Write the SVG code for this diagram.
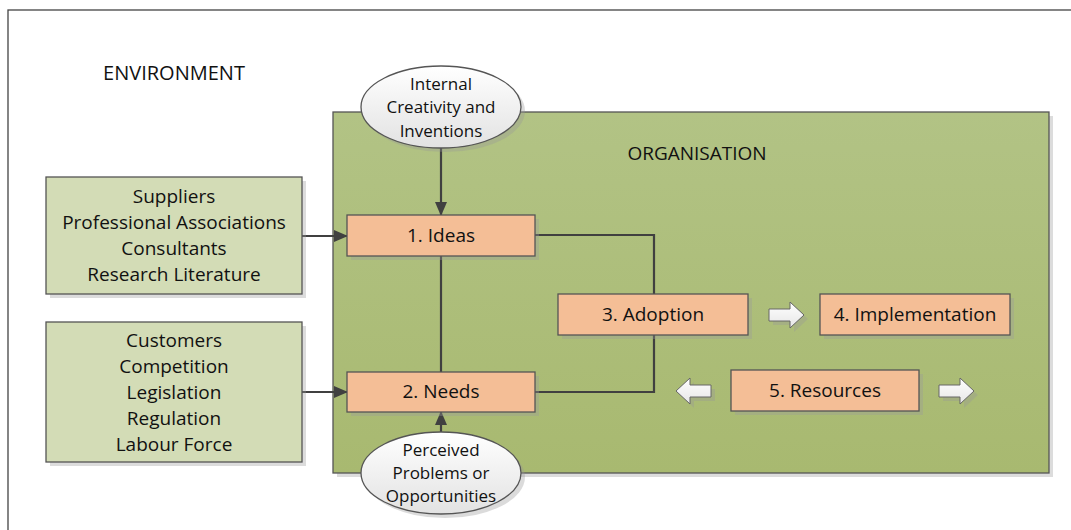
<svg xmlns="http://www.w3.org/2000/svg" width="1071" height="530" viewBox="0 0 1071 530">
<defs>
<style>
text{font-family:"Open Sans","Liberation Sans",sans-serif;fill:#111;text-anchor:middle}
.box{fill:#f4be96;stroke:#555;stroke-width:1.3}
.env{fill:#d3dcb6;stroke:#555;stroke-width:1.3}
.sh{fill:#9a9a9a;opacity:0.35}
.conn{fill:none;stroke:#404040;stroke-width:2.2}
.t19{font-size:19px}
.t16{font-size:17px}
.blk{fill:url(#wg);stroke:#666;stroke-width:1}
</style>
<linearGradient id="og" x1="0" y1="0" x2="0" y2="1">
<stop offset="0" stop-color="#b2c385"/>
<stop offset="1" stop-color="#a8b970"/>
</linearGradient>
<linearGradient id="eg" x1="0" y1="0" x2="0" y2="1">
<stop offset="0" stop-color="#ffffff"/>
<stop offset="1" stop-color="#e2e2e2"/>
</linearGradient>
<linearGradient id="wg" x1="0" y1="0" x2="0" y2="1">
<stop offset="0" stop-color="#ffffff"/>
<stop offset="1" stop-color="#e6e6e6"/>
</linearGradient>
<marker id="ah" markerWidth="14" markerHeight="12" refX="13" refY="6" orient="auto" markerUnits="userSpaceOnUse">
<path d="M0,0 L14,6 L0,12 Z" fill="#404040"/>
</marker>
</defs>
<rect width="1071" height="530" fill="#ffffff"/>
<g id="environment">
<rect x="8" y="10" width="1080" height="540" fill="none" stroke="#444" stroke-width="1.3"/>
<text x="174" y="80" class="t19" style="font-size:20px">ENVIRONMENT</text>
</g>
<g id="organisation">
<rect x="337" y="116" width="716" height="361" fill="#dcdcdc"/>
<rect x="333" y="112" width="716" height="361" fill="url(#og)" stroke="#555" stroke-width="1.3"/>
<text x="697" y="160" class="t19">ORGANISATION</text>
</g>
<g id="connectors">
<line class="conn" x1="441" y1="148" x2="441" y2="215" marker-end="url(#ah)"/>
<line class="conn" x1="441" y1="432" x2="441" y2="412" marker-end="url(#ah)"/>
<line class="conn" x1="302" y1="236" x2="347" y2="236" marker-end="url(#ah)"/>
<line class="conn" x1="302" y1="392" x2="347" y2="392" marker-end="url(#ah)"/>
<line class="conn" x1="441" y1="256" x2="441" y2="372"/>
<polyline class="conn" points="535,235 654,235 654,294"/>
<polyline class="conn" points="654,335 654,392 535,392"/>
</g>
<g id="suppliers">
<rect class="sh" x="50" y="181" width="256" height="117"/>
<rect class="env" x="46" y="177" width="256" height="117"/>
<text class="t19" x="174" y="203">Suppliers</text>
<text class="t19" x="174" y="229">Professional Associations</text>
<text class="t19" x="174" y="255">Consultants</text>
<text class="t19" x="174" y="281">Research Literature</text>
</g>
<g id="customers">
<rect class="sh" x="50" y="326" width="256" height="140"/>
<rect class="env" x="46" y="322" width="256" height="140"/>
<text class="t19" x="174" y="347">Customers</text>
<text class="t19" x="174" y="373">Competition</text>
<text class="t19" x="174" y="399">Legislation</text>
<text class="t19" x="174" y="425">Regulation</text>
<text class="t19" x="174" y="451">Labour Force</text>
</g>
<g id="internal">
<ellipse cx="445" cy="111" rx="80" ry="41" fill="#999" opacity="0.35"/>
<ellipse cx="441" cy="107" rx="80" ry="41" fill="url(#eg)" stroke="#555" stroke-width="1.3"/>
<text class="t16" x="441" y="90">Internal</text>
<text class="t16" x="441" y="113">Creativity and</text>
<text class="t16" x="441" y="137">Inventions</text>
</g>
<g id="perceived">
<ellipse cx="445" cy="477" rx="80" ry="41" fill="#999" opacity="0.35"/>
<ellipse cx="441" cy="473" rx="80" ry="41" fill="url(#eg)" stroke="#555" stroke-width="1.3"/>
<text class="t16" x="441" y="456">Perceived</text>
<text class="t16" x="441" y="479">Problems or</text>
<text class="t16" x="441" y="502">Opportunities</text>
</g>
<g id="ideas">
<rect class="sh" x="351" y="219" width="188" height="41"/>
<rect class="box" x="347" y="215" width="188" height="41"/>
<text class="t19" x="441" y="242">1. Ideas</text>
</g>
<g id="needs">
<rect class="sh" x="351" y="376" width="188" height="40"/>
<rect class="box" x="347" y="372" width="188" height="40"/>
<text class="t19" x="441" y="398">2. Needs</text>
</g>
<g id="adoption">
<rect class="sh" x="562" y="298" width="190" height="41"/>
<rect class="box" x="558" y="294" width="190" height="41"/>
<text class="t19" x="653" y="321">3. Adoption</text>
</g>
<g id="implementation">
<rect class="sh" x="824" y="298" width="190" height="41"/>
<rect class="box" x="820" y="294" width="190" height="41"/>
<text class="t19" x="915" y="321">4. Implementation</text>
</g>
<g id="resources">
<rect class="sh" x="735" y="374" width="188" height="41"/>
<rect class="box" x="731" y="370" width="188" height="41"/>
<text class="t19" x="825" y="397">5. Resources</text>
</g>
<g id="block-arrows">
<path d="M773,313 L794,313 L794,306 L808,319 L794,332 L794,325 L773,325 Z" fill="#999" opacity="0.35"/>
<path class="blk" d="M769,309 L790,309 L790,302 L804,315 L790,328 L790,321 L769,321 Z"/>
<path d="M715,389 L694,389 L694,382 L680,395 L694,408 L694,401 L715,401 Z" fill="#999" opacity="0.35"/>
<path class="blk" d="M711,385 L690,385 L690,378 L676,391 L690,404 L690,397 L711,397 Z"/>
<path d="M943,389 L964,389 L964,382 L978,395 L964,408 L964,401 L943,401 Z" fill="#999" opacity="0.35"/>
<path class="blk" d="M939,385 L960,385 L960,378 L974,391 L960,404 L960,397 L939,397 Z"/>
</g>
</svg>
